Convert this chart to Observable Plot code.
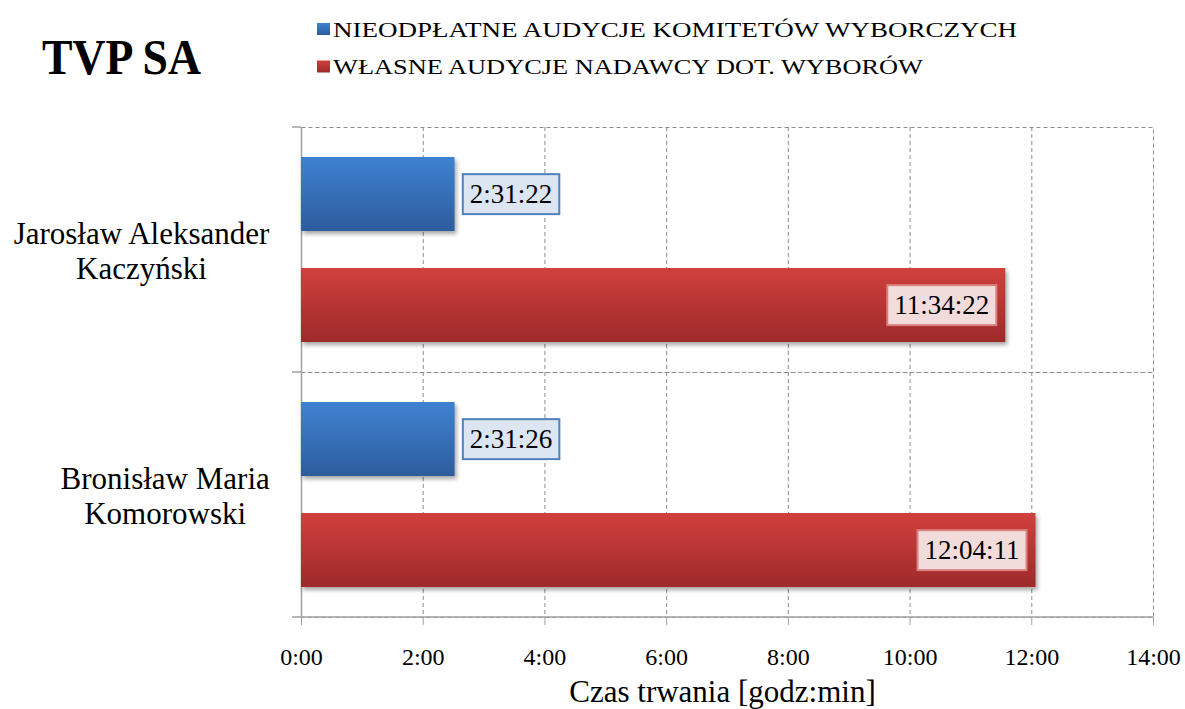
<!DOCTYPE html>
<html>
<head>
<meta charset="utf-8">
<script src="https://cdn.jsdelivr.net/npm/d3@7"></script>
<script src="https://cdn.jsdelivr.net/npm/@observablehq/plot@0.6"></script>
<style>
  html, body { margin: 0; padding: 0; background: #fff; }
  #wrap { width: 1185px; height: 709px; overflow: hidden; font-family: 'Liberation Serif', 'Times New Roman', serif; }
  #header { height: 100px; }
  #header svg { display: block; }
</style>
</head>
<body>
<div id="wrap">
  <div id="header"></div>
  <div id="chart"></div>
</div>
<script>
// ---- data ----
const chartTitle = "TVP SA";
const candidates = ["Jarosław Aleksander Kaczyński", "Bronisław Maria Komorowski"];
const candidateLines = [["Jarosław Aleksander", "Kaczyński"], ["Bronisław Maria", "Komorowski"]];
const seriesNames = ["NIEODPŁATNE AUDYCJE KOMITETÓW WYBORCZYCH", "WŁASNE AUDYCJE NADAWCY DOT. WYBORÓW"];
const freeBroadcasts = ["2:31:22", "2:31:26"];
const ownBroadcasts = ["11:34:22", "12:04:11"];
const xTicks = [0, 2, 4, 6, 8, 10, 12, 14];
const xTickLabels = ["0:00", "2:00", "4:00", "6:00", "8:00", "10:00", "12:00", "14:00"];
const axisTitle = "Czas trwania [godz:min]";
const seriesColors = [["#3f82d2", "#2d5c9c"], ["#d0403d", "#9e2a2a"]];

// ---- build rows ----
function toHours(s) { const [h, m, sec] = s.split(":").map(Number); return h + m / 60 + sec / 3600; }
const rows = candidates.flatMap((c, i) => [
  {cand: c, series: seriesNames[0], value: toHours(freeBroadcasts[i]), label: freeBroadcasts[i]},
  {cand: c, series: seriesNames[1], value: toHours(ownBroadcasts[i]), label: ownBroadcasts[i]}
]);
const blueRows = rows.filter(d => d.series === seriesNames[0]);
const redRows = rows.filter(d => d.series === seriesNames[1]);

// ---- header (title + legend) ----
const FONT = "'Liberation Serif', 'Times New Roman', serif";
const header = d3.select("#header").append("svg").attr("width", 1185).attr("height", 100);
const hdefs = header.append("defs");
seriesColors.forEach((c, i) => {
  const g = hdefs.append("linearGradient").attr("id", "hg" + i).attr("x1", 0).attr("y1", 0).attr("x2", 0).attr("y2", 1);
  g.append("stop").attr("offset", "0%").attr("stop-color", c[0]);
  g.append("stop").attr("offset", "100%").attr("stop-color", c[1]);
});
header.append("text").attr("x", 42).attr("y", 74)
  .style("font-family", FONT).style("font-weight", "bold").style("font-size", "50px")
  .attr("textLength", 159).attr("lengthAdjust", "spacingAndGlyphs").text(chartTitle);
const legendW = [684, 590];
seriesNames.forEach((s, i) => {
  const y = 23 + i * 37.5;
  header.append("rect").attr("x", 317).attr("y", y).attr("width", 13).attr("height", 12).attr("fill", `url(#hg${i})`);
  header.append("text").attr("x", 333).attr("y", y + 13.5)
    .style("font-family", FONT).style("font-size", "22px")
    .attr("textLength", legendW[i]).attr("lengthAdjust", "spacingAndGlyphs").text(s);
});

// ---- chart ----
const grid = {stroke: "#8c8c8c", strokeOpacity: 1, strokeDasharray: "4,3"};
const chart = Plot.plot({
  width: 1185, height: 609,
  marginTop: 27, marginBottom: 92, marginLeft: 301, marginRight: 32,
  style: {fontFamily: FONT, fontSize: "24px", color: "black", background: "white"},
  x: {domain: [0, 14]},
  y: {domain: seriesNames, paddingInner: 0.333, paddingOuter: 0.27, axis: null},
  fy: {domain: candidates, padding: 0, axis: null},
  marks: [
    Plot.frame(grid),
    Plot.gridX(xTicks.slice(1, -1), grid),
    Plot.ruleX([0], {stroke: "#a0a0a0", strokeWidth: 1.5}),
    Plot.barX(blueRows, {x: "value", y: "series", fy: "cand", fill: "url(#gBlue)", ariaDescription: "bar-blue"}),
    Plot.barX(redRows, {x: "value", y: "series", fy: "cand", fill: "url(#gRed)", ariaDescription: "bar-red"}),
    Plot.text(blueRows, {x: "value", y: "series", fy: "cand", text: "label", dx: 56, fontSize: 27, textAnchor: "middle", fill: "black", ariaDescription: "vlabel-blue"}),
    Plot.text(redRows, {x: "value", y: "series", fy: "cand", text: "label", dx: -64, fontSize: 27, textAnchor: "middle", fill: "black", ariaDescription: "vlabel-red"}),
    Plot.text(candidates, {fy: d => d, text: (d, i) => candidateLines[i].join("\n"), frameAnchor: "left", textAnchor: "middle", fontSize: 31, lineHeight: 1.16, fill: "black", ariaDescription: "ylabels"}),
    Plot.axisX({ticks: xTicks, tickFormat: d => xTickLabels[xTicks.indexOf(d)], tickSize: 8, tickPadding: 22, fontSize: 24, stroke: "#a0a0a0", label: null}),
    Plot.text([axisTitle], {fy: () => candidates[1], text: d => d, frameAnchor: "bottom", lineAnchor: "middle", dx: -5, dy: 75, fontSize: 31, fill: "black", ariaDescription: "xtitle"})
  ]
});
document.getElementById("chart").appendChild(chart);

// ---- post-processing: gradients, shadows, label boxes, axis lines ----
const svg = d3.select(chart);
const defs = svg.insert("defs", ":first-child");
[["gBlue", seriesColors[0]], ["gRed", seriesColors[1]]].forEach(([id, c]) => {
  const g = defs.append("linearGradient").attr("id", id).attr("x1", 0).attr("y1", 0).attr("x2", 0).attr("y2", 1);
  g.append("stop").attr("offset", "0%").attr("stop-color", c[0]);
  g.append("stop").attr("offset", "100%").attr("stop-color", c[1]);
});
function grp(name) { return `g[aria-description="${name}"]`; }
svg.selectAll(`${grp("bar-blue")}, ${grp("bar-red")}`)
  .style("filter", "drop-shadow(2px 3px 2px rgba(0,0,0,0.35))");

function boxLabels(sel, fill, stroke) {
  svg.selectAll(sel).each(function () {
    const b = this.getBBox();
    const r = document.createElementNS("http://www.w3.org/2000/svg", "rect");
    r.setAttribute("x", b.x - 7); r.setAttribute("y", b.y - 5);
    r.setAttribute("width", b.width + 14); r.setAttribute("height", b.height + 10);
    r.setAttribute("fill", fill); r.setAttribute("stroke", stroke); r.setAttribute("stroke-width", 2);
    const t = this.getAttribute("transform"); if (t) r.setAttribute("transform", t);
    this.parentNode.insertBefore(r, this);
  });
}
boxLabels(`${grp("vlabel-blue")} text`, "#dce6f2", "#4f81bd");
boxLabels(`${grp("vlabel-red")} text`, "#f2dcdb", "#d9817d");

// y labels: block right edge at fixed offset left of the axis, lines centered
const svgRect = chart.getBoundingClientRect();
const xs = chart.scale("x");
const x0 = xs.apply(0), x1 = xs.apply(14);
svg.selectAll(`${grp("ylabels")} text`).each(function () {
  const r = this.getBoundingClientRect();
  const right = r.right - svgRect.left;
  const shift = (x0 - 31) - right;
  const t = this.getAttribute("transform") || "";
  this.setAttribute("transform", t + ` translate(${shift},0)`);
});

// axis line at bottom and category boundary ticks on the left
const fys = chart.scale("fy");
const bounds = fys.domain.map(d => fys.apply(d));
bounds.push(fys.apply(fys.domain[fys.domain.length - 1]) + fys.bandwidth);
const axisG = svg.append("g").attr("stroke", "#a0a0a0").attr("stroke-width", 1.5);
bounds.forEach((y, i) => {
  axisG.append("line").attr("x1", x0 - 9).attr("x2", i === bounds.length - 1 ? x1 : x0).attr("y1", y).attr("y2", y);
});
</script>
</body>
</html>
